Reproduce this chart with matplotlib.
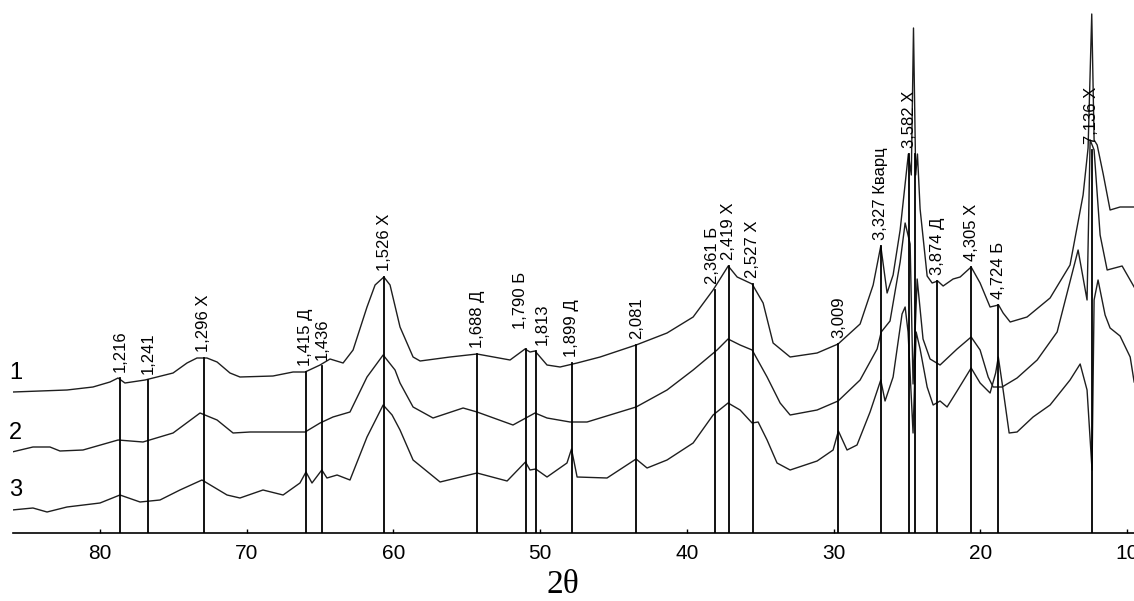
import numpy as np
import matplotlib.pyplot as plt

# trace 1 (top)
tt1 = [85.93, 82.25, 80.48, 79.32, 78.77, 78.30, 76.93, 75.02, 74.07, 73.39, 72.71, 72.02, 71.14,
       70.46, 68.21, 66.84, 66.02, 65.00, 64.32, 63.43, 62.75, 61.80, 61.25, 60.65, 60.23, 59.55,
       58.66, 58.18, 56.14, 54.30, 52.05, 51.03, 50.69, 50.35, 49.53, 48.64, 47.48, 45.91, 43.46,
       41.35, 39.57, 38.21, 37.18, 36.57, 35.55, 34.80, 34.12, 32.96, 31.12, 29.69, 28.19, 27.30,
       26.78, 26.35, 25.94, 25.46, 24.90, 24.70, 24.55, 24.40, 24.28, 24.10, 23.62, 23.28, 22.90,
       22.53, 21.85, 21.37, 20.62, 20.01, 19.33, 18.75, 18.44, 17.96, 16.81, 15.24, 13.88, 12.99,
       12.65, 12.40, 12.24, 12.03, 11.62, 11.15, 10.47, 9.51]
ii1 = [141, 143, 146, 151, 155, 150, 153, 160, 170, 175, 175, 171, 160,
       156, 157, 161, 161, 168, 174, 170, 183, 226, 248, 256, 248, 206,
       176, 172, 176, 179, 173, 184, 181, 182, 168, 166, 170, 176, 188,
       200, 216, 243, 267, 256, 249, 230, 190, 176, 180, 189, 209, 248,
       287, 240, 258, 303, 379, 358, 505, 358, 379, 324, 257, 250, 252,
       247, 254, 256, 266, 250, 226, 228, 220, 211, 216, 235, 268, 338,
       385, 519, 393, 388, 359, 323, 326, 326]

# trace 2 (middle)
tt2 = [86.00, 84.57, 83.41, 82.73, 81.16, 78.77, 77.07, 75.02, 73.18, 72.02, 70.93, 69.77, 66.02,
       65.00, 64.12, 62.96, 61.80, 60.70, 59.89, 59.55, 58.66, 57.30, 55.25, 54.30, 51.85, 50.35,
       49.53, 47.96, 46.80, 43.46, 41.35, 39.57, 37.94, 37.19, 36.37, 35.55, 34.53, 33.64, 32.96,
       31.12, 29.69, 28.19, 27.03, 26.75, 26.15, 25.46, 25.12, 24.78, 24.58, 24.30, 23.90, 23.42,
       22.74, 21.58, 20.62, 20.01, 19.46, 19.12, 18.51, 17.49, 16.12, 14.76, 13.33, 12.72, 12.51,
       12.24, 11.83, 11.35, 10.33, 9.51]
ii2 = [81, 86, 86, 82, 83, 93, 91, 100, 120, 113, 100, 101, 101,
       110, 116, 121, 156, 178, 163, 150, 126, 115, 125, 121, 108, 120,
       115, 111, 111, 126, 143, 163, 183, 194, 188, 183, 156, 130, 118,
       123, 132, 153, 184, 201, 212, 271, 310, 289, 149, 254, 194, 174,
       168, 184, 196, 183, 156, 146, 146, 155, 173, 201, 283, 233, 393,
       383, 298, 263, 267, 246]

# trace 3 (bottom)
tt3 = [86.00, 84.57, 83.61, 82.25, 80.00, 78.64, 77.27, 75.91, 74.55, 73.05, 71.34, 70.46, 68.89,
       67.52, 66.37, 65.96, 65.55, 64.88, 64.53, 63.84, 62.96, 61.80, 60.70, 60.09, 59.55, 58.66,
       56.82, 54.30, 52.25, 51.00, 50.69, 50.30, 49.53, 48.17, 47.86, 47.48, 45.44, 43.46, 42.71,
       41.35, 39.57, 38.21, 37.19, 36.37, 35.55, 35.14, 34.53, 33.85, 32.96, 31.12, 30.03, 29.67,
       29.08, 28.40, 27.51, 26.78, 26.49, 25.94, 25.33, 25.12, 24.92, 24.58, 24.37, 24.10, 23.62,
       23.21, 22.74, 22.26, 21.58, 20.62, 20.01, 19.33, 18.95, 18.77, 18.44, 18.03, 17.49, 16.40,
       15.24, 13.88, 13.19, 12.72, 12.38, 12.24, 11.97, 11.49, 11.15, 10.47, 9.78, 9.51]
ii3 = [23, 25, 21, 26, 30, 38, 31, 33, 43, 53, 38, 35, 43,
       38, 50, 61, 50, 63, 55, 58, 53, 96, 128, 118, 103, 73,
       51, 60, 52, 71, 63, 64, 56, 70, 84, 56, 55, 74, 65,
       73, 90, 118, 130, 123, 110, 111, 93, 70, 63, 72, 83, 102,
       83, 88, 121, 153, 132, 156, 219, 226, 201, 100, 201, 184, 146,
       128, 132, 126, 142, 165, 150, 140, 160, 176, 143, 100, 101, 116,
       128, 153, 169, 143, 63, 233, 253, 218, 205, 197, 176, 151]

# marked reflections: d-spacing label, 2theta, top of the line
peak_labels = ['1,216', '1,241', '1,296 Х', '1,415 Д', '1,436', '1,526 Х', '1,688 Д',
               '1,790 Б', '1,813', '1,899 Д', '2,081', '2,361 Б', '2,419 Х', '2,527 Х',
               '3,009', '3,327 Кварц', '3,582 Х', '', '3,874 Д', '4,305 Х', '4,724 Б', '7,136 Х']
peak_pos = [78.62, 76.74, 72.94, 65.96, 64.88, 60.64, 54.30, 50.98, 50.28, 47.86, 43.45,
            38.08, 37.14, 35.50, 29.67, 26.78, 24.84, 24.45, 22.94, 20.62, 18.77, 12.39]
peak_top = [155, 153, 175, 161, 167, 256, 179, 184, 182, 170, 188,
            243, 267, 249, 189, 287, 379, 379, 252, 266, 228, 383]

trace_names = ['1', '2', '3']
trace_name_y = [160, 100, 43]

xticks = [80, 70, 60, 50, 40, 30, 20, 10]

# small sideways nudges so crowded labels sit next to each other
nudge = {'1,790 Б': (0.35, 14), '1,813': (-0.45, 0), '2,361 Б': (0.2, 0)}

fig = plt.figure(figsize=(11.34, 6.01), dpi=100)
ax = fig.add_axes([13 / 1134, 68 / 601, 1 - 13 / 1134, 533 / 601])

for tt, ii in [(tt1, ii1), (tt2, ii2), (tt3, ii3)]:
    ax.plot(tt, ii, color='#1e1e1e', lw=1.0)

for lab, pos, top in zip(peak_labels, peak_pos, peak_top):
    ax.plot([pos, pos], [0, top], color='black', lw=1.3)
    if lab:
        dx, dy = nudge.get(lab, (0, 0))
        ax.text(pos + dx, top + 6 + dy, lab, rotation=90, ha='center', va='bottom',
                fontsize=12, family=['Liberation Sans', 'DejaVu Sans'])

for name, y in zip(trace_names, trace_name_y):
    ax.text(86.2, y, name, fontsize=17, ha='left', va='center',
            family=['Liberation Sans', 'DejaVu Sans'], clip_on=False)

ax.set_xlim(85.93, 9.52)
ax.set_ylim(0, 533)
for s in ['left', 'right', 'top']:
    ax.spines[s].set_visible(False)
ax.spines['bottom'].set_linewidth(1.2)
ax.set_yticks([])
ax.set_xticks(xticks)
ax.tick_params(axis='x', direction='in', length=3, width=1, pad=8, labelsize=15)
for t in ax.get_xticklabels():
    t.set_family(['Liberation Sans Narrow', 'Liberation Sans'])

fig.text(563 / 1134, 1 - 585 / 601, '2θ', ha='center', va='center',
         fontsize=24, family=['Liberation Serif', 'DejaVu Serif'])

fig.savefig('out.png', dpi=100)
